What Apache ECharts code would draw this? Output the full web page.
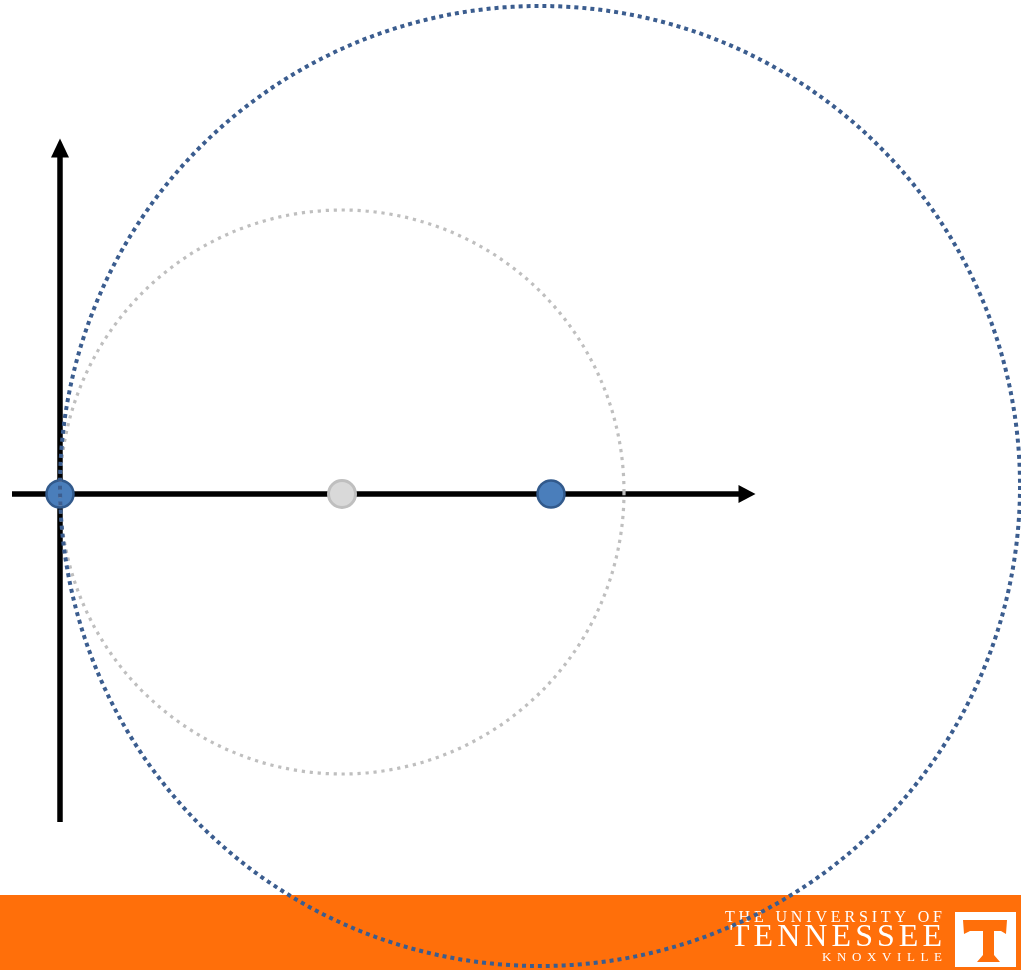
<!DOCTYPE html>
<html>
<head>
<meta charset="utf-8">
<script src="https://cdn.jsdelivr.net/npm/echarts@6/dist/echarts.min.js"></script>
<style>
html,body{margin:0;padding:0;background:#fff;}
#chart{width:1021px;height:970px;}
</style>
</head>
<body>
<div id="chart"></div>
<script>
// ---- data (units: 1 unit = 1 screen px, origin at the axes' crossing) ----
const xRange = [-48, 687];
const yRange = [-328, 346];
const bluePoints = [[0, 0], [491, 0]];
const grayPoints = [[282, 0]];
// circles: [centerX, centerY, radius]
const grayCircle = [[282, 2, 282]];
const blueCircle = [[480, 8, 480]];
const logoLine1 = 'THE UNIVERSITY OF';
const logoLine2 = 'TENNESSEE';
const logoLine3 = 'KNOXVILLE';

const chart = echarts.init(document.getElementById('chart'), null, {renderer: 'canvas'});

function circleRenderer(color, width, dash) {
  return function (params, api) {
    const c = api.coord([api.value(0), api.value(1)]);
    const r = api.size([api.value(2), api.value(2)])[0];
    return {
      type: 'circle',
      shape: {cx: c[0], cy: c[1], r: r},
      style: {fill: 'none', stroke: color, lineWidth: width, lineDash: dash}
    };
  };
}

// spaced text helper for the logo
const mctx = document.createElement('canvas').getContext('2d');
function spacedText(str, left, right, cy, font) {
  mctx.font = font;
  const chars = str.split('');
  const widths = chars.map(c => mctx.measureText(c).width);
  const total = widths.reduce((a, b) => a + b, 0);
  const gap = (right - left - total) / (chars.length - 1);
  const els = [];
  let x = left;
  chars.forEach((c, i) => {
    if (c !== ' ') {
      els.push({type: 'text', x: x, y: cy, z: 2,
        style: {text: c, font: font, fill: '#ffffff', textAlign: 'left', textVerticalAlign: 'middle'}});
    }
    x += widths[i] + gap;
  });
  return els;
}

const graphics = [
  {type: 'rect', shape: {x: 0, y: 895, width: 1021, height: 75}, style: {fill: '#FF6F0A'}, z: 1},
  {type: 'rect', shape: {x: 955, y: 912, width: 61, height: 55}, style: {fill: '#ffffff'}, z: 2},
  {type: 'polygon', z: 3, style: {fill: '#FF6F0A'}, shape: {points: [
    [963, 920], [1007, 920], [1006, 934], [1001, 931], [994, 931], [994, 955],
    [1000, 962], [977, 962], [983, 955], [983, 931], [970, 931], [964, 934]
  ]}}
].concat(
  spacedText(logoLine1, 725, 942, 917.5, '16px "Liberation Serif"'),
  spacedText(logoLine2, 730, 942, 938, '32px "Liberation Serif"'),
  spacedText(logoLine3, 822, 942, 958, '13px "Liberation Serif"')
);

const option = {
  animation: false,
  backgroundColor: '#ffffff',
  grid: {left: 12, top: 148, width: 735, height: 674, containLabel: false},
  xAxis: {
    type: 'value', min: xRange[0], max: xRange[1],
    axisLine: {show: true, onZero: true, symbol: ['none', 'triangle'], symbolSize: [18, 17],
      lineStyle: {color: '#000000', width: 5.5, cap: 'butt'}},
    axisTick: {show: false}, axisLabel: {show: false}, splitLine: {show: false}
  },
  yAxis: {
    type: 'value', min: yRange[0], max: yRange[1],
    axisLine: {show: true, onZero: true, symbol: ['none', 'triangle'], symbolSize: [18, 19],
      lineStyle: {color: '#000000', width: 5.5, cap: 'butt'}},
    axisTick: {show: false}, axisLabel: {show: false}, splitLine: {show: false}
  },
  graphic: graphics,
  series: [
    {
      type: 'scatter', name: 'blue', data: bluePoints, symbolSize: 27, z: 5,
      itemStyle: {color: '#4A7EBB', borderColor: '#325A8C', borderWidth: 2.5, opacity: 1}
    },
    {
      type: 'scatter', name: 'gray', data: grayPoints, symbolSize: 27, z: 5,
      itemStyle: {color: '#D9D9D9', borderColor: '#BFBFBF', borderWidth: 3, opacity: 1}
    },
    {
      type: 'custom', name: 'grayCircle', data: grayCircle, z: 10, clip: false,
      encode: {x: 0, y: 1},
      renderItem: circleRenderer('#BFBFBF', 3.2, [3.2, 4.8])
    },
    {
      type: 'custom', name: 'blueCircle', data: blueCircle, z: 11, clip: false,
      encode: {x: 0, y: 1},
      renderItem: circleRenderer('#3B5D8F', 4, [4, 4])
    }
  ]
};
chart.setOption(option);
</script>
</body>
</html>
